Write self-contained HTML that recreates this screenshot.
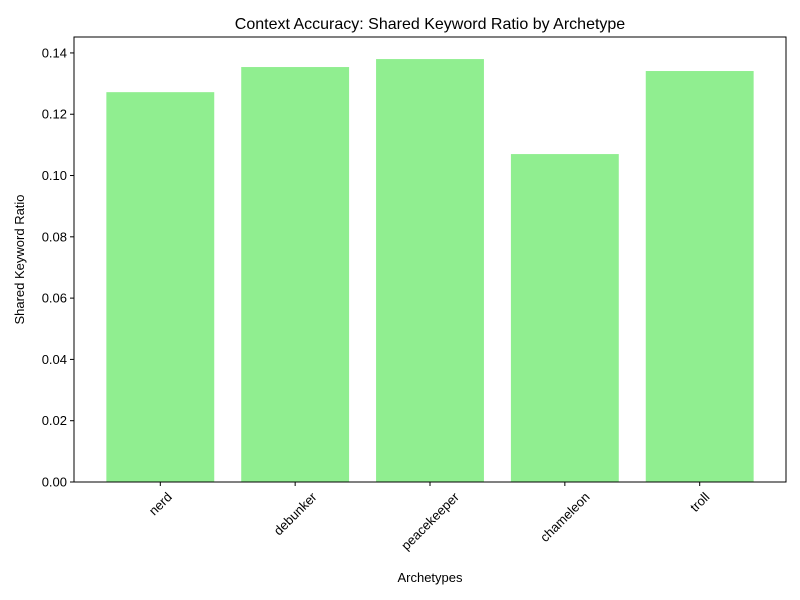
<!DOCTYPE html>
<html><head><meta charset="utf-8"><style>body{margin:0;background:#fff}svg{display:block}text{font-family:"Liberation Sans","DejaVu Sans",sans-serif;fill:#000}</style></head>
<body>
<svg id="chart" width="800" height="600">
<rect width="800" height="600" fill="#fff"/>
<text x="430" y="29" font-size="16" text-anchor="middle">Context Accuracy: Shared Keyword Ratio by Archetype</text>
<g id="bars"></g>
<g id="yticks"></g>
<g id="xticks"></g>
<rect x="74" y="37" width="712" height="445" fill="none" stroke="#000" stroke-width="1"/>
<text x="430" y="582" font-size="13" text-anchor="middle">Archetypes</text>
<text transform="translate(24,259.5) rotate(-90)" font-size="13" text-anchor="middle">Shared Keyword Ratio</text>
</svg>
<script>
const categories = ["nerd","debunker","peacekeeper","chameleon","troll"];
const values = [0.1272,0.1354,0.1380,0.1070,0.1341];
const yTicks = [0,0.02,0.04,0.06,0.08,0.10,0.12,0.14];
const yTickLabels = ["0.00","0.02","0.04","0.06","0.08","0.10","0.12","0.14"];
const L=74,R=786,T=37,B=482,yMax=0.1452,xMin=-0.64,xMax=4.64;
const ns="http://www.w3.org/2000/svg";
const x=v=>L+(v-xMin)/(xMax-xMin)*(R-L);
const y=v=>B-v/yMax*(B-T);
const bw=0.8*(R-L)/(xMax-xMin);
const gb=document.getElementById('bars'),gy=document.getElementById('yticks'),gx=document.getElementById('xticks');
function mk(t,a,p){const e=document.createElementNS(ns,t);for(const k in a)e.setAttribute(k,a[k]);p.appendChild(e);return e;}
categories.forEach((c,i)=>{
 const r=mk('rect',{x:x(i)-bw/2,y:y(values[i]),width:bw,height:B-y(values[i]),fill:'#90ee90'},gb);
 
 
 const tk=mk('line',{x1:x(i),x2:x(i),y1:B,y2:B+4,stroke:'#000'},gx);
 
 
 const t=mk('text',{'font-size':13,'text-anchor':'middle'},gx);
 t.textContent=c;
 
 
 const w=t.getComputedTextLength();
 const cy=B+8+(w+13)*0.7071/2;
 t.setAttribute('transform',`translate(${x(i)},${cy}) rotate(-45) translate(0,4.5)`);
});
yTicks.forEach((v,i)=>{
 const tk=mk('line',{x1:L-4,x2:L,y1:y(v),y2:y(v),stroke:'#000'},gy);
 
 
 const t=mk('text',{x:L-7,y:y(v)+4.5,'font-size':13,'text-anchor':'end'},gy);
 t.textContent=yTickLabels[i];
 
 
});
</script>
</body></html>
